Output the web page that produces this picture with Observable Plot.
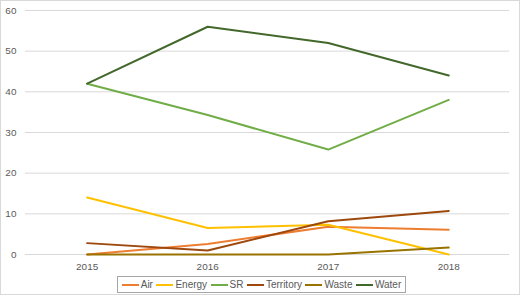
<!DOCTYPE html>
<html><head><meta charset="utf-8">
<script src="https://cdn.jsdelivr.net/npm/d3@7"></script>
<script src="https://cdn.jsdelivr.net/npm/@observablehq/plot@0.6"></script>
<style>
body{margin:0;background:#fff;}
#chart{position:relative;width:518px;height:293px;border:1px solid #d9d9d9;overflow:hidden;font-family:"Liberation Sans",Arial,sans-serif;}
#chart svg{position:absolute;left:-1px;top:-1px;}
#legend{position:absolute;left:116px;top:275px;height:17px;width:289px;border:1px solid #a6a6a6;display:flex;align-items:center;justify-content:space-around;font-size:10px;color:#595959;padding:0 2px;box-sizing:border-box;}
#legend span{display:flex;align-items:center;}
#legend i{display:inline-block;width:17px;height:2px;margin-right:2px;}
</style></head>
<body><div id="chart"><div id="legend"></div></div>
<script>
const years = ["2015","2016","2017","2018"];
const seriesNames = ["Air","Energy","SR","Territory","Waste","Water"];
const colors = ["#ED7D31","#FFC000","#70AD47","#9E480E","#997300","#43682B"];
const air = [0, 2.6, 6.8, 6.1];
const energy = [14, 6.5, 7.3, 0];
const sr = [42, 34.3, 25.8, 38];
const territory = [2.8, 1.0, 8.2, 10.7];
const waste = [0, 0, 0, 1.7];
const water = [42, 56, 52, 44];
const yTicks = [0,10,20,30,40,50,60];

const values = [air, energy, sr, territory, waste, water];
const data = [];
seriesNames.forEach((s,i)=>years.forEach((y,j)=>data.push({series:s, year:y, value:values[i][j]})));

const plot = Plot.plot({
  width:520, height:295,
  marginTop:10, marginBottom:40, marginLeft:25, marginRight:9,
  style:{fontFamily:'"Liberation Sans",Arial,sans-serif', fontSize:"10px", color:"#595959", background:"transparent"},
  x:{type:"point", domain:years, padding:0.5, label:null},
  y:{domain:[0,60], ticks:yTicks, label:null},
  color:{domain:seriesNames, range:colors},
  marks:[
    Plot.gridY(yTicks, {stroke:"#d9d9d9", strokeOpacity:1, strokeWidth:1}),
    Plot.ruleY([0], {stroke:"#d9d9d9", strokeWidth:1}),
    Plot.axisY({ticks:yTicks, tickSize:0, tickPadding:9, fill:"#595959"}),
    Plot.axisX({tickSize:0, tickPadding:8, fill:"#595959"}),
    Plot.line(data, {x:"year", y:"value", z:"series", stroke:"series", strokeWidth:2, strokeLinejoin:"round"})
  ]
});
const chart = document.getElementById("chart");
chart.insertBefore(plot, chart.firstChild);
const legend = document.getElementById("legend");
seriesNames.forEach((s,i)=>{
  const sp = document.createElement("span");
  sp.innerHTML = `<i style="background:${colors[i]}"></i>${s}`;
  legend.appendChild(sp);
});
</script></body></html>
